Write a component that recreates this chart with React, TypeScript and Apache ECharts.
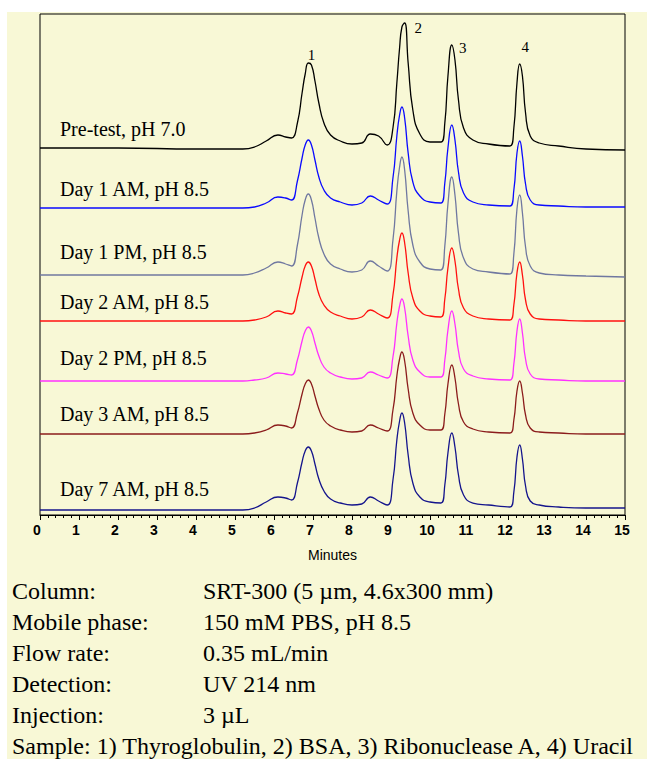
import { useEffect, useRef } from "react";
import * as echarts from "echarts";

// retention time grid (min), shared by all traces
const MINUTES = [
  0, 2, 4, 5.2, 5.5, 5.8, 6.1, 6.3, 6.45, 6.6, 6.72, 6.8, 6.88, 6.96, 7.05, 7.15, 7.28, 7.45, 7.7, 8.0,
  8.25, 8.47, 8.68, 8.9, 9.05, 9.15, 9.22, 9.28, 9.35, 9.44, 9.56, 9.74, 10.0, 10.28, 10.38, 10.46,
  10.56, 10.64, 10.73, 10.86, 11.1, 11.5, 12.05, 12.15, 12.23, 12.3, 12.37, 12.45, 12.57, 12.8, 13.3,
  14, 15,
];

// detector signal above each trace's own baseline
const PRE_TEST = [
  0, 0, -1, -1, 1, 7, 13, 11, 10, 25, 55, 74, 85, 83, 67, 45, 25, 13, 7, 4, 5, 14, 12, 3, 20, 65, 100,
  121, 125, 85, 38, 14, 6, 6, 25, 72, 103, 88, 48, 20, 8, 4, 2, 20, 65, 84, 72, 35, 12, 5, 2, -1, -2,
];
const DAY1_AM = [
  0, 0, 0, 0, 1, 5, 11, 10, 8, 27, 50, 63, 68, 63, 48, 31, 18, 10, 6, 3, 5, 12, 8, 4, 30, 72, 93, 101,
  90, 55, 26, 12, 6, 5, 25, 60, 83, 68, 36, 15, 6, 3, 2, 18, 55, 67, 52, 24, 8, 3, 2, 1, 1,
];
const DAY1_PM = [
  0, 0, 0, 0, 2, 7, 13, 11, 9, 30, 60, 75, 81, 75, 57, 37, 21, 11, 6, 3, 5, 14, 9, 4, 35, 84, 108, 118,
  105, 64, 30, 13, 6, 5, 29, 71, 98, 80, 42, 17, 6, 3, 1, 21, 66, 80, 62, 28, 9, 2, 0, -1, -2,
];
const DAY2_AM = [
  0, 0, 0, 0, 1, 4, 10, 8, 7, 24, 44, 55, 59, 55, 42, 27, 16, 9, 5, 2, 4, 11, 7, 3, 26, 63, 81, 88, 78,
  48, 23, 10, 5, 4, 22, 53, 73, 60, 32, 13, 5, 2, 1, 16, 48, 59, 46, 21, 7, 2, 1, 0, 0,
];
const DAY2_PM = [
  0, 0, 0, 0, 1, 3, 8, 7, 6, 21, 40, 50, 54, 50, 38, 25, 14, 8, 4, 2, 3, 9, 6, 3, 24, 58, 75, 82, 73,
  45, 21, 9, 4, 4, 21, 51, 70, 57, 30, 12, 5, 2, 1, 17, 50, 62, 48, 22, 7, 2, 1, 0, 0,
];
const DAY3_AM = [
  0, 0, 0, 0, 1, 4, 9, 8, 6, 21, 40, 50, 54, 50, 38, 25, 14, 8, 4, 2, 3, 9, 6, 3, 24, 58, 75, 82, 73,
  45, 21, 9, 4, 4, 20, 50, 69, 56, 30, 12, 5, 2, 1, 14, 43, 53, 41, 19, 6, 2, 1, 0, 0,
];
const DAY7_AM = [
  0, 0, 0, 0, 2, 8, 13, 12, 10, 27, 48, 59, 63, 59, 46, 31, 19, 11, 7, 5, 6, 13, 9, 5, 30, 70, 89, 97,
  87, 55, 27, 13, 8, 7, 25, 57, 77, 63, 35, 15, 7, 5, 3, 18, 53, 65, 51, 24, 9, 5, 3, 2, 2,
];

const TRACES = [PRE_TEST, DAY1_AM, DAY1_PM, DAY2_AM, DAY2_PM, DAY3_AM, DAY7_AM];
const TRACE_NAMES = [
  "Pre-test, pH 7.0",
  "Day 1 AM, pH 8.5",
  "Day 1 PM, pH 8.5",
  "Day 2 AM, pH 8.5",
  "Day 2 PM, pH 8.5",
  "Day 3 AM, pH 8.5",
  "Day 7 AM, pH 8.5",
];
// vertical stacking offset of each trace
const TRACE_OFFSETS = [367, 307, 240, 194, 134, 81, 5];

const PEAK_NAMES = ["1", "2", "3", "4"];
const CONDITIONS = [
  ["Column:", "SRT-300 (5 µm, 4.6x300 mm)"],
  ["Mobile phase:", "150 mM PBS, pH 8.5"],
  ["Flow rate:", "0.35 mL/min"],
  ["Detection:", "UV 214 nm"],
  ["Injection:", "3 µL"],
];
const SAMPLE_LINE = "Sample: 1) Thyroglobulin, 2) BSA, 3) Ribonuclease A, 4) Uracil";

// styling / placement
const TRACE_COLORS = ["#000000", "#0a0aff", "#7078a0", "#ff1010", "#ff30ff", "#8b1c1c", "#14148c"];
const LABEL_Y = [129, 189, 252, 302, 358, 414, 489];
const PEAK_LABEL_COORDS = [
  [6.96, 460],
  [9.7, 487],
  [10.84, 467],
  [12.44, 468],
];
const BG = "#f8f8d6";
const SERIF = "Times New Roman";
const SANS = "Arial";

export default function App() {
  const chartRef = useRef<HTMLDivElement>(null);

  useEffect(() => {
    if (!chartRef.current) return;
    const chart = echarts.init(chartRef.current, undefined, { renderer: "svg" });

    const series = TRACES.map((trace, t) => ({
      type: "line",
      name: TRACE_NAMES[t],
      data: MINUTES.map((m, i) => [m, trace[i] + TRACE_OFFSETS[t]]),
      showSymbol: false,
      smooth: 0.5,
      lineStyle: { color: TRACE_COLORS[t], width: 1.3 },
      itemStyle: { color: TRACE_COLORS[t] },
      z: 10 - t,
      markPoint:
        t === 0
          ? {
              symbol: "circle",
              symbolSize: 1,
              itemStyle: { color: "transparent" },
              label: {
                show: true,
                position: "inside",
                formatter: "{b}",
                color: "#000",
                fontSize: 15,
                fontFamily: SERIF,
              },
              data: PEAK_NAMES.map((name, i) => ({ name, coord: PEAK_LABEL_COORDS[i] })),
            }
          : undefined,
    }));

    const text = (x: number, y: number, str: string, size: number) => ({
      type: "text",
      x,
      y,
      style: {
        text: str,
        fill: "#000",
        fontSize: size,
        fontFamily: SERIF,
        verticalAlign: "middle",
      },
    });

    const graphic: any[] = [];
    TRACE_NAMES.forEach((name, i) => graphic.push(text(60, LABEL_Y[i], name, 20)));
    CONDITIONS.forEach(([label, value], i) => {
      const y = 591 + i * 31;
      graphic.push(text(12, y, label, 24));
      graphic.push(text(203, y, value, 24));
    });
    graphic.push(text(12, 591 + CONDITIONS.length * 31, SAMPLE_LINE, 24));

    chart.setOption({
      animation: false,
      backgroundColor: "transparent",
      grid: {
        left: 40,
        right: 22,
        top: 14,
        bottom: 244,
        show: true,
        borderColor: "#000",
        borderWidth: 1,
      },
      xAxis: {
        type: "value",
        min: 0,
        max: 15,
        interval: 1,
        name: "Minutes",
        nameLocation: "middle",
        nameGap: 33,
        nameTextStyle: { color: "#000", fontSize: 14, fontFamily: SANS },
        axisLine: { lineStyle: { color: "#000", width: 1 } },
        axisTick: { show: true, length: 5, lineStyle: { color: "#000" } },
        minorTick: { show: true, splitNumber: 5, length: 3, lineStyle: { color: "#000" } },
        axisLabel: {
          color: "#000",
          fontSize: 14,
          fontWeight: "bold",
          fontFamily: SANS,
          margin: 8,
          padding: [0, 6, 0, 0],
        },
        splitLine: { show: false },
      },
      yAxis: {
        type: "value",
        min: 0,
        max: 501,
        show: false,
        splitLine: { show: false },
      },
      series,
      graphic,
    });

    return () => {
      chart.dispose();
    };
  }, []);

  return (
    <div style={{ position: "absolute", left: 0, top: 0, width: 647, height: 759, background: "#fff" }}>
      <div style={{ position: "absolute", left: 7, top: 12, width: 640, height: 747, background: BG }} />
      <div ref={chartRef} style={{ position: "absolute", left: 0, top: 0, width: 647, height: 759 }} />
    </div>
  );
}
